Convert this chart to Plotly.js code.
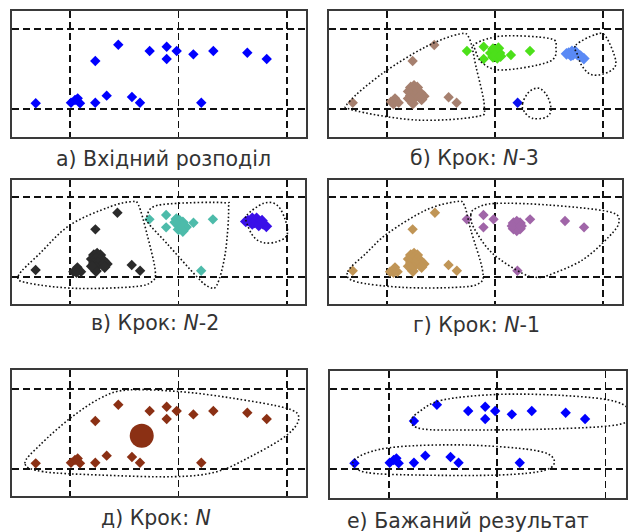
<!DOCTYPE html>
<html>
<head>
<meta charset="utf-8">
<script src="https://cdn.plot.ly/plotly-3.0.1.min.js"></script>
<style>html,body{margin:0;padding:0;background:#fff;}#chart{width:632px;height:532px;}</style>
</head>
<body>
<div id="chart"></div>
<script>
// ---------- data ----------
const gridX = [1, 2, 3];
const gridY = [0, 1];

// input points (panels а, д, е)
const inputX = [0.684, 1.009, 1.046, 1.071, 1.092, 1.233, 1.338, 1.571, 1.645, 2.21, 1.233, 1.445, 1.734, 1.891, 1.891, 1.983, 2.137, 2.321, 2.634, 2.813];
const inputY = [0.071, 0.079, 0.113, 0.133, 0.071, 0.079, 0.167, 0.15, 0.079, 0.079, 0.6, 0.804, 0.725, 0.779, 0.625, 0.725, 0.683, 0.725, 0.704, 0.625];

// panel б (N-3): single points and merged blobs
const bBrownX = [0.683, 1.037, 1.074, 1.108, 1.06, 1.437, 1.237, 1.57, 1.644];
const bBrownY = [0.079, 0.092, 0.133, 0.079, 0.06, 0.8, 0.6, 0.146, 0.079];
const bBrownBlobX = [1.22, 1.25, 1.28, 1.20, 1.24, 1.28, 1.31, 1.34, 1.22, 1.26, 1.30, 1.24, 1.24, 1.20, 1.32];
const bBrownBlobY = [0.27, 0.29, 0.27, 0.22, 0.23, 0.22, 0.20, 0.16, 0.17, 0.17, 0.15, 0.12, 0.07, 0.13, 0.12];
const bGreenX = [1.739, 1.894, 1.894, 2.146, 2.322];
const bGreenY = [0.725, 0.779, 0.625, 0.675, 0.725];
const bGreenBlobX = [1.98, 2.03, 1.96, 2.00, 2.04, 1.98, 2.02, 2.00, 2.00, 2.05];
const bGreenBlobY = [0.75, 0.76, 0.70, 0.70, 0.70, 0.65, 0.64, 0.73, 0.67, 0.66];
const bLightBlueX = [2.68, 2.71, 2.74, 2.72, 2.76, 2.79, 2.82, 2.70, 2.75, 2.66];
const bLightBlueY = [0.70, 0.72, 0.72, 0.68, 0.68, 0.66, 0.63, 0.67, 0.70, 0.69];
const bBlueX = [2.208];
const bBlueY = [0.079];

// panel в (N-2)
const cDarkX = [0.683, 1.031, 1.068, 1.102, 1.06, 1.437, 1.234, 1.569, 1.646];
const cDarkY = [0.083, 0.0625, 0.117, 0.0625, 0.05, 0.8, 0.592, 0.146, 0.075];
const cDarkBlobX = [1.22, 1.25, 1.28, 1.20, 1.24, 1.28, 1.31, 1.34, 1.22, 1.26, 1.30, 1.24, 1.24, 1.20, 1.32];
const cDarkBlobY = [0.27, 0.29, 0.27, 0.22, 0.23, 0.22, 0.20, 0.16, 0.17, 0.17, 0.15, 0.12, 0.07, 0.13, 0.12];
const cTealX = [1.732, 1.886, 1.886, 2.138, 2.317, 2.209];
const cTealY = [0.717, 0.771, 0.617, 0.675, 0.717, 0.075];
const cTealBlobX = [1.98, 2.01, 2.04, 2.00, 2.04, 2.07, 2.00, 2.04, 2.02, 1.97];
const cTealBlobY = [0.72, 0.70, 0.68, 0.64, 0.62, 0.62, 0.59, 0.57, 0.66, 0.68];
const cIndigoX = [2.64, 2.68, 2.72, 2.70, 2.74, 2.78, 2.81, 2.68, 2.74, 2.77, 2.62];
const cIndigoY = [0.70, 0.73, 0.73, 0.68, 0.68, 0.66, 0.63, 0.66, 0.64, 0.70, 0.69];

// panel г (N-1)
const dTanX = [0.683, 1.028, 1.074, 1.098, 1.06, 1.443, 1.237, 1.569, 1.646];
const dTanY = [0.075, 0.0625, 0.117, 0.0625, 0.05, 0.8, 0.592, 0.146, 0.075];
const dTanBlobX = [1.22, 1.25, 1.28, 1.20, 1.24, 1.28, 1.31, 1.34, 1.22, 1.26, 1.30, 1.24, 1.24, 1.20, 1.32];
const dTanBlobY = [0.27, 0.29, 0.27, 0.22, 0.23, 0.22, 0.20, 0.16, 0.17, 0.17, 0.15, 0.12, 0.07, 0.13, 0.12];
const dPurpleX = [1.738, 1.892, 1.892, 1.985, 2.323, 2.646, 2.822, 2.206];
const dPurpleY = [0.717, 0.771, 0.617, 0.717, 0.717, 0.696, 0.617, 0.075];
const dPurpleBlobX = [2.20, 2.17, 2.23, 2.17, 2.23, 2.20, 2.20, 2.16, 2.24];
const dPurpleBlobY = [0.634, 0.67, 0.67, 0.60, 0.60, 0.69, 0.58, 0.634, 0.634];

// panel д (N): single cluster centre
const eCentreX = [1.661];
const eCentreY = [0.416];

// cluster outlines (data coordinates)
const outB1X = [0.652, 0.96, 1.36, 1.669, 1.761, 1.823, 1.9, 1.823, 1.268, 0.683];
const outB1Y = [0.092, 0.446, 0.779, 0.9375, 0.883, 0.529, 0.029, -0.096, -0.1375, -0.0125];
const outB2X = [1.823, 2.069, 2.5, 2.562, 2.5, 2.069, 1.884, 1.816];
const outB2Y = [0.821, 0.9125, 0.883, 0.779, 0.592, 0.4875, 0.571, 0.7375];
const outB3X = [2.747, 2.932, 3.024, 3.116, 3.055, 2.901, 2.808, 2.762];
const outB3Y = [0.8, 0.933, 0.904, 0.592, 0.467, 0.425, 0.529, 0.675];
const outB4X = [2.254, 2.315, 2.408, 2.485, 2.516, 2.469, 2.346, 2.269];
const outB4Y = [0.071, 0.217, 0.258, 0.154, -0.0125, -0.104, -0.117, -0.033];

const outC1X = [0.523, 0.723, 1.0, 1.369, 1.569, 1.631, 1.708, 1.785, 1.754, 1.585, 1.062, 0.631];
const outC1Y = [0.008, 0.292, 0.646, 0.875, 0.9375, 0.896, 0.542, 0.083, -0.0625, -0.125, -0.146, -0.083];
const outC2X = [1.708, 1.769, 1.985, 2.415, 2.462, 2.431, 2.354, 2.277, 2.169, 1.892, 1.723];
const outC2Y = [0.75, 0.875, 0.917, 0.925, 0.854, 0.292, -0.104, -0.125, 0.0, 0.417, 0.667];
const outC3X = [2.631, 2.785, 2.908, 2.985, 3.0, 2.908, 2.785, 2.692, 2.631];
const outC3Y = [0.771, 0.917, 0.896, 0.708, 0.521, 0.4375, 0.425, 0.5, 0.667];

const outD1X = [0.637, 0.806, 1.006, 1.36, 1.637, 1.714, 1.775, 1.883, 1.852, 1.637, 1.145, 0.714];
const outD1Y = [0.0625, 0.292, 0.542, 0.833, 0.9375, 0.896, 0.583, 0.083, -0.083, -0.133, -0.133, -0.0625];
const outD2X = [1.775, 1.822, 2.006, 2.498, 3.052, 3.145, 3.052, 2.806, 2.498, 2.391, 2.252, 1.975, 1.806];
const outD2Y = [0.771, 0.854, 0.917, 0.896, 0.8125, 0.6875, 0.5, 0.208, 0.021, -0.008, 0.042, 0.292, 0.604];

const outE1X = [0.585, 0.723, 1.0, 1.277, 1.523, 2.015, 2.508, 3.0, 3.108, 3.0, 2.692, 2.354, 1.954, 1.277, 0.754];
const outE1Y = [0.071, 0.3, 0.633, 0.883, 0.9875, 0.967, 0.883, 0.758, 0.633, 0.425, 0.175, -0.033, -0.096, -0.075, -0.033];

const outF1X = [1.206, 1.283, 1.498, 2.022, 2.637, 3.098, 3.246, 3.098, 2.483, 1.714, 1.314];
const outF1Y = [0.592, 0.717, 0.8625, 0.933, 0.917, 0.842, 0.675, 0.55, 0.5, 0.4875, 0.5];
const outF2X = [0.668, 0.791, 1.098, 1.714, 2.329, 2.52, 2.452, 2.022, 1.252, 0.791];
const outF2Y = [0.071, 0.196, 0.279, 0.3, 0.2375, 0.133, -0.0125, -0.075, -0.075, -0.042];

const captions = ['а) Вхідний розподіл', 'б) Крок: <i>N</i>-3', 'в) Крок: <i>N</i>-2', 'г) Крок: <i>N</i>-1', 'д) Крок: <i>N</i>', 'е) Бажаний результат'];

// ---------- layout helpers ----------
const W = 632, H = 532;
function px2fx(p) { return p / W; }
function px2fy(p) { return 1 - p / H; }

const boxes = [
  {l: 12, r: 306, t: 11, b: 137, xr: [0.4654, 3.175], yr: [-0.35, 1.225]},
  {l: 329, r: 622, t: 11, b: 137, xr: [0.4637, 3.173], yr: [-0.35, 1.225]},
  {l: 12, r: 305, t: 179.5, b: 304, xr: [0.4654, 3.166], yr: [-0.341, 1.215]},
  {l: 329, r: 622, t: 180, b: 304, xr: [0.4637, 3.173], yr: [-0.341, 1.209]},
  {l: 12, r: 306, t: 370.3, b: 496.3, xr: [0.4654, 3.175], yr: [-0.341, 1.234]},
  {l: 330, r: 626, t: 371, b: 498, xr: [0.458, 3.191], yr: [-0.3625, 1.225]}
];
const capPos = [[163, 159], [474, 158], [155, 323], [476, 325], [156, 518], [468, 521]];

function axis(dom, range, vals, anchor) {
  return {
    domain: dom, range: range, tickvals: vals, anchor: anchor,
    showticklabels: false, ticks: '', showgrid: true,
    gridcolor: '#111', gridwidth: 1.6, griddash: '7px,4px',
    zeroline: false, showline: true, mirror: true,
    linecolor: '#3a3a3a', linewidth: 2, fixedrange: true
  };
}

const layout = {
  width: W, height: H, margin: {l: 0, r: 0, t: 0, b: 0},
  paper_bgcolor: '#fff', plot_bgcolor: '#fff', showlegend: false,
  shapes: [], annotations: []
};

boxes.forEach((bx, i) => {
  const k = i === 0 ? '' : String(i + 1);
  layout['xaxis' + k] = axis([px2fx(bx.l), px2fx(bx.r)], bx.xr, gridX, 'y' + k);
  layout['yaxis' + k] = axis([px2fy(bx.b), px2fy(bx.t)], bx.yr, gridY, 'x' + k);
  layout.annotations.push({
    xref: 'paper', yref: 'paper', x: px2fx(capPos[i][0]), y: px2fy(capPos[i][1]),
    xanchor: 'center', yanchor: 'middle', showarrow: false, text: captions[i],
    font: {family: 'DejaVu Sans, sans-serif', size: 20.5, color: '#333'}
  });
});

function smoothPath(xs, ys) {
  const n = xs.length;
  let d = 'M' + xs[0] + ',' + ys[0];
  for (let i = 0; i < n; i++) {
    const p0 = (i - 1 + n) % n, p1 = i, p2 = (i + 1) % n, p3 = (i + 2) % n;
    const c1x = xs[p1] + (xs[p2] - xs[p0]) / 6, c1y = ys[p1] + (ys[p2] - ys[p0]) / 6;
    const c2x = xs[p2] - (xs[p3] - xs[p1]) / 6, c2y = ys[p2] - (ys[p3] - ys[p1]) / 6;
    d += ' C' + c1x + ',' + c1y + ' ' + c2x + ',' + c2y + ' ' + xs[p2] + ',' + ys[p2];
  }
  return d + ' Z';
}
function outline(xs, ys, k) {
  layout.shapes.push({
    type: 'path', xref: 'x' + k, yref: 'y' + k, path: smoothPath(xs, ys),
    line: {color: '#111', width: 1.6, dash: '1.6px,2.2px'}, layer: 'above'
  });
}
outline(outB1X, outB1Y, '2'); outline(outB2X, outB2Y, '2'); outline(outB3X, outB3Y, '2'); outline(outB4X, outB4Y, '2');
outline(outC1X, outC1Y, '3'); outline(outC2X, outC2Y, '3'); outline(outC3X, outC3Y, '3');
outline(outD1X, outD1Y, '4'); outline(outD2X, outD2Y, '4');
outline(outE1X, outE1Y, '5');
outline(outF1X, outF1Y, '6'); outline(outF2X, outF2Y, '6');

function pts(xs, ys, color, k, symbol, size) {
  return {
    type: 'scatter', mode: 'markers', x: xs, y: ys,
    xaxis: 'x' + k, yaxis: 'y' + k, hoverinfo: 'skip', cliponaxis: true,
    marker: {symbol: symbol || 'diamond', size: size || 8, color: color, line: {width: 0}}
  };
}

const data = [
  pts(inputX, inputY, '#0000ff', ''),
  pts(bBrownX, bBrownY, '#a6806f', '2'),
  pts(bBrownBlobX, bBrownBlobY, '#a6806f', '2', 'diamond', 9),
  pts(bGreenX, bGreenY, '#4ce01a', '2'),
  pts(bGreenBlobX, bGreenBlobY, '#4ce01a', '2', 'diamond', 9),
  pts(bLightBlueX, bLightBlueY, '#5a8af5', '2', 'diamond', 9),
  pts(bBlueX, bBlueY, '#0a10f0', '2'),
  pts(cDarkX, cDarkY, '#2b2b2b', '3'),
  pts(cDarkBlobX, cDarkBlobY, '#2b2b2b', '3', 'diamond', 9),
  pts(cTealX, cTealY, '#4dbbaa', '3'),
  pts(cTealBlobX, cTealBlobY, '#4dbbaa', '3', 'diamond', 9),
  pts(cIndigoX, cIndigoY, '#3a10e8', '3', 'diamond', 9),
  pts(dTanX, dTanY, '#c09556', '4'),
  pts(dTanBlobX, dTanBlobY, '#c09556', '4', 'diamond', 9),
  pts(dPurpleX, dPurpleY, '#a065a8', '4'),
  pts(dPurpleBlobX, dPurpleBlobY, '#a065a8', '4', 'diamond', 9),
  pts(inputX, inputY, '#8b3014', '5'),
  pts(eCentreX, eCentreY, '#8b3014', '5', 'circle', 24),
  pts(inputX, inputY, '#0000ff', '6')
];

Plotly.newPlot('chart', data, layout, {staticPlot: true, displayModeBar: false});
</script>
</body>
</html>
